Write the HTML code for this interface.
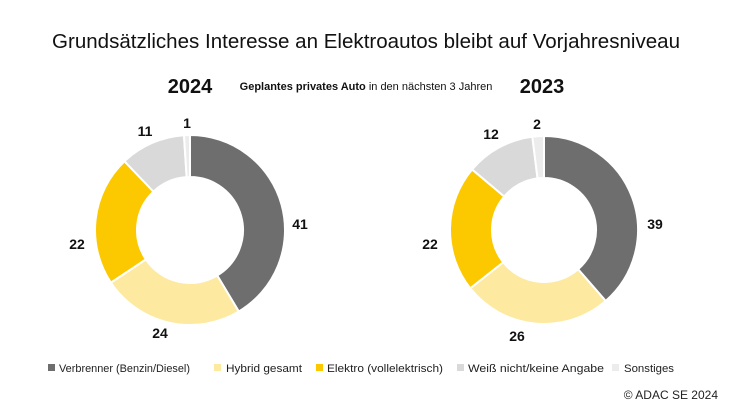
<!DOCTYPE html>
<html><head><meta charset="utf-8"><style>
body{margin:0;width:732px;height:412px;background:#fff;font-family:"Liberation Sans",sans-serif;overflow:hidden}
</style></head><body>
<svg width="732" height="412" xmlns="http://www.w3.org/2000/svg" font-family="Liberation Sans, sans-serif">
<text x="52" y="48" textLength="628" lengthAdjust="spacingAndGlyphs" font-size="20" fill="#111">Grundsätzliches Interesse an Elektroautos bleibt auf Vorjahresniveau</text>
<text x="190" y="93" text-anchor="middle" font-size="20" font-weight="bold" fill="#111">2024</text>
<text x="542" y="93" text-anchor="middle" font-size="20" font-weight="bold" fill="#111">2023</text>
<text x="366" y="90" text-anchor="middle" font-size="11" fill="#111"><tspan font-weight="bold">Geplantes privates Auto</tspan> in den nächsten 3 Jahren</text>
<g id="d1"></g><g id="d2"></g>
<g font-size="14" font-weight="bold" fill="#111" text-anchor="middle">
<text x="300" y="229">41</text><text x="160" y="338">24</text><text x="77" y="249">22</text><text x="145" y="136">11</text><text x="187" y="128">1</text>
<text x="655" y="229">39</text><text x="517" y="341">26</text><text x="430" y="249">22</text><text x="491" y="139">12</text><text x="537" y="129">2</text>
</g>
<g font-size="11" fill="#222">
<rect x="48" y="364" width="7" height="7" fill="#6e6e6e"/><text x="59" y="372" textLength="131" lengthAdjust="spacingAndGlyphs">Verbrenner (Benzin/Diesel)</text>
<rect x="214" y="364" width="7" height="7" fill="#fde99f"/><text x="226" y="372" textLength="76" lengthAdjust="spacingAndGlyphs">Hybrid gesamt</text>
<rect x="316" y="364" width="7" height="7" fill="#fcc800"/><text x="327" y="372" textLength="116" lengthAdjust="spacingAndGlyphs">Elektro (vollelektrisch)</text>
<rect x="457" y="364" width="7" height="7" fill="#d9d9d9"/><text x="468" y="372" textLength="136" lengthAdjust="spacingAndGlyphs">Weiß nicht/keine Angabe</text>
<rect x="612" y="364" width="7" height="7" fill="#ececec"/><text x="624" y="372" textLength="50" lengthAdjust="spacingAndGlyphs">Sonstiges</text>
<text x="718" y="399" text-anchor="end" font-size="12">© ADAC SE 2024</text>
</g>
</svg>
<script>
var cols=["#6e6e6e","#fde99f","#fcc800","#d9d9d9","#ececec"];
function donut(id,cx,cy,R,r,vals){
 var g=document.getElementById(id),t=vals.reduce((a,b)=>a+b,0),a=0,s="";
 vals.forEach(function(v,i){
  var a0=a/t*2*Math.PI,a1=(a+v)/t*2*Math.PI;a+=v;
  function p(rr,an){return (cx+rr*Math.sin(an)).toFixed(2)+","+(cy-rr*Math.cos(an)).toFixed(2);}
  var l=(a1-a0)>Math.PI?1:0;
  s+='<path d="M'+p(R,a0)+' A'+R+','+R+' 0 '+l+' 1 '+p(R,a1)+' L'+p(r,a1)+' A'+r+','+r+' 0 '+l+' 0 '+p(r,a0)+' Z" fill="'+cols[i]+'" stroke="#fff" stroke-width="2"/>';
 });
 g.innerHTML=s;
}
donut("d1",190,230,95,53,[41,24,22,11,1]);
donut("d2",544,230,94,52,[39,26,22,12,2]);
</script>
</body></html>
